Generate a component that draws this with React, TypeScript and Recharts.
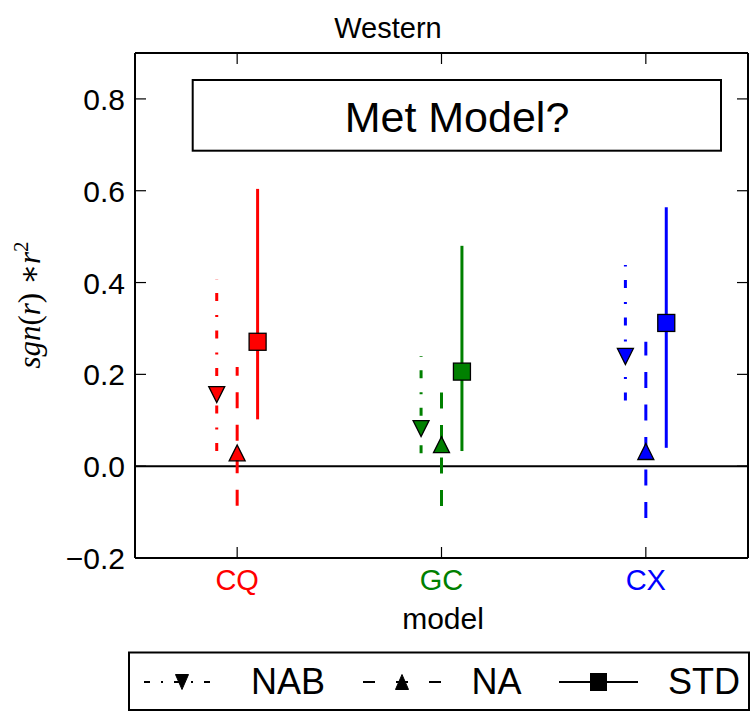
import React from "react";
import { ScatterChart, Scatter, XAxis, YAxis, ReferenceLine } from "recharts";

const MODELS = ["CQ", "GC", "CX"];
const MODEL_COLORS = ["#ff0000", "#008000", "#0000ff"];
const SERIES_NAMES = ["NAB", "NA", "STD"];
const SERIES_OFFSETS = [-0.1, 0, 0.1];

const NAB_VALUES = [0.156, 0.082, 0.239];
const NAB_LOWS = [0.033, 0.028, 0.143];
const NAB_HIGHS = [0.407, 0.24, 0.438];

const NA_VALUES = [0.029, 0.047, 0.032];
const NA_LOWS = [-0.086, -0.087, -0.113];
const NA_HIGHS = [0.216, 0.193, 0.271];

const STD_VALUES = [0.271, 0.206, 0.312];
const STD_LOWS = [0.102, 0.033, 0.04];
const STD_HIGHS = [0.604, 0.48, 0.564];

const X_TICKS = [0, 1, 2];
const Y_TICKS = [-0.2, 0, 0.2, 0.4, 0.6, 0.8];

const FONT = "'Liberation Sans', Arial, sans-serif";

const SERIES = [
  { name: SERIES_NAMES[0], values: NAB_VALUES, lows: NAB_LOWS, highs: NAB_HIGHS, dash: "8 13.5 2 14", legendDash: "6 11 2 11", marker: "down" },
  { name: SERIES_NAMES[1], values: NA_VALUES, lows: NA_LOWS, highs: NA_HIGHS, dash: "16 16.5", legendDash: "12 21", marker: "up" },
  { name: SERIES_NAMES[2], values: STD_VALUES, lows: STD_LOWS, highs: STD_HIGHS, dash: undefined, legendDash: undefined, marker: "square" },
];

const fmtY = (v: number) => {
  const s = Math.abs(v).toFixed(1);
  return v < -1e-9 ? "\u2212" + s : s;
};

function markerShape(kind: string, cx: number, cy: number, fill: string, w: number, h: number, sw: number) {
  if (kind === "square") {
    return <rect x={cx - w / 2} y={cy - h / 2} width={w} height={h} fill={fill} stroke="#000" strokeWidth={sw} />;
  }
  const pts =
    kind === "down"
      ? `${cx - w / 2},${cy - h / 2} ${cx + w / 2},${cy - h / 2} ${cx},${cy + h / 2}`
      : `${cx - w / 2},${cy + h / 2} ${cx + w / 2},${cy + h / 2} ${cx},${cy - h / 2}`;
  return <polygon points={pts} fill={fill} stroke="#000" strokeWidth={sw} strokeLinejoin="miter" />;
}

const LeftTick = (props: any) => {
  const { x, y, payload } = props;
  return (
    <g>
      <line x1={x} x2={x + 11} y1={y} y2={y} stroke="#000" strokeWidth={1.2} />
      <text x={x - 10} y={y + 11} textAnchor="end" fontSize={30} fontFamily={FONT} fill="#000">
        {fmtY(payload.value)}
      </text>
    </g>
  );
};

const RightTick = (props: any) => {
  const { x, y } = props;
  return <line x1={x} x2={x - 11} y1={y} y2={y} stroke="#000" strokeWidth={1.2} />;
};

const BottomTick = (props: any) => {
  const { x, y, payload } = props;
  return (
    <g>
      <line x1={x} x2={x} y1={y} y2={y - 11} stroke="#000" strokeWidth={1.2} />
      <text x={x} y={y + 32} textAnchor="middle" fontSize={29} fontFamily={FONT} fill={MODEL_COLORS[payload.value]}>
        {MODELS[payload.value]}
      </text>
    </g>
  );
};

const TopTick = (props: any) => {
  const { x, y } = props;
  return <line x1={x} x2={x} y1={y} y2={y + 11} stroke="#000" strokeWidth={1.2} />;
};

export default function App() {
  const errorLines = SERIES.flatMap((s, si) =>
    MODELS.map((m, i) => ({
      key: `${s.name}-${m}`,
      color: MODEL_COLORS[i],
      dash: s.dash,
      data: [
        { x: i + SERIES_OFFSETS[si], y: s.lows[i] },
        { x: i + SERIES_OFFSETS[si], y: s.highs[i] },
      ],
    }))
  );

  const markerData = SERIES.map((s, si) =>
    MODELS.map((m, i) => ({ x: i + SERIES_OFFSETS[si], y: s.values[i], color: MODEL_COLORS[i], model: m }))
  );

  const legendSlots = [
    { x1: 144, x2: 220, mx: 182, tx: 251 },
    { x1: 363, x2: 441, mx: 402, tx: 471.5 },
    { x1: 559, x2: 638, mx: 598.5, tx: 668 },
  ];

  return (
    <div style={{ position: "absolute", left: 0, top: 0, width: 750, height: 712, background: "#fff" }}>
      <ScatterChart width={750} height={712} margin={{ top: 52, right: 1, bottom: 0, left: 0 }}>
        <XAxis
          dataKey="x"
          type="number"
          domain={[-0.5, 2.5]}
          ticks={X_TICKS}
          interval={0}
          height={154}
          tickSize={0}
          tickMargin={0}
          tickLine={false}
          axisLine={{ stroke: "#000", strokeWidth: 2 }}
          tick={<BottomTick />}
          allowDataOverflow
        />
        <XAxis
          xAxisId="top"
          dataKey="x"
          orientation="top"
          type="number"
          domain={[-0.5, 2.5]}
          ticks={X_TICKS}
          interval={0}
          height={1}
          tickSize={0}
          tickMargin={0}
          tickLine={false}
          axisLine={{ stroke: "#000", strokeWidth: 2 }}
          tick={<TopTick />}
          allowDataOverflow
        />
        <YAxis
          dataKey="y"
          type="number"
          domain={[-0.2, 0.9]}
          ticks={Y_TICKS}
          interval={0}
          width={135}
          tickSize={0}
          tickMargin={0}
          tickLine={false}
          axisLine={{ stroke: "#000", strokeWidth: 2 }}
          tick={<LeftTick />}
          allowDataOverflow
        />
        <YAxis
          yAxisId="right"
          dataKey="y"
          orientation="right"
          type="number"
          domain={[-0.2, 0.9]}
          ticks={Y_TICKS}
          interval={0}
          width={1}
          tickSize={0}
          tickMargin={0}
          tickLine={false}
          axisLine={{ stroke: "#000", strokeWidth: 2 }}
          tick={<RightTick />}
          allowDataOverflow
        />
        {/* invisible series so the mirrored frame axes get drawn */}
        <Scatter
          xAxisId="top"
          yAxisId="right"
          data={markerData[2]}
          shape={() => <g />}
          isAnimationActive={false}
          legendType="none"
        />
        {errorLines.map((e) => (
          <Scatter
            key={e.key}
            data={e.data}
            line={{ stroke: e.color, strokeWidth: 3, strokeDasharray: e.dash }}
            shape={() => <g />}
            isAnimationActive={false}
            legendType="none"
          />
        ))}
        <ReferenceLine y={0} stroke="#000" strokeWidth={2} />
        {SERIES.map((s, si) => (
          <Scatter
            key={s.name}
            name={s.name}
            data={markerData[si]}
            isAnimationActive={false}
            shape={(p: any) =>
              markerShape(s.marker, p.cx, p.cy, p.payload.color, s.marker === "square" ? 17 : 16, s.marker === "square" ? 17 : 16, 1.3)
            }
          />
        ))}
      </ScatterChart>
      <svg width={750} height={712} style={{ position: "absolute", left: 0, top: 0, pointerEvents: "none" }}>
        <text x={388} y={38} textAnchor="middle" fontSize={29} fontFamily={FONT} fill="#000">
          Western
        </text>
        <rect x={192.7} y={80} width={528.3} height={70.7} fill="#fff" stroke="#000" strokeWidth={2} />
        <text x={457} y={131.5} textAnchor="middle" fontSize={43} fontFamily={FONT} fill="#000">
          Met Model?
        </text>
        <text
          x={40}
          y={305}
          transform="rotate(-90 40 305)"
          textAnchor="middle"
          fontSize={31}
          fontFamily="'Liberation Serif', 'DejaVu Serif', serif"
          fill="#000"
        >
          <tspan fontStyle="italic">sgn</tspan>
          <tspan>(</tspan>
          <tspan fontStyle="italic">r</tspan>
          <tspan>)</tspan>
          <tspan> {"\u2217"}</tspan>
          <tspan fontStyle="italic">r</tspan>
          <tspan dy={-12} fontSize={21}>2</tspan>
        </text>
        <text x={443} y={629} textAnchor="middle" fontSize={30} fontFamily={FONT} fill="#000">
          model
        </text>
        <rect x={129} y={652.5} width={620} height={57.5} fill="#fff" stroke="#000" strokeWidth={2} />
        {SERIES.map((s, si) => {
          const slot = legendSlots[si];
          return (
            <g key={s.name}>
              <line
                x1={slot.x1}
                x2={slot.x2}
                y1={682}
                y2={682}
                stroke="#000"
                strokeWidth={2}
                strokeDasharray={s.legendDash}
              />
              {markerShape(s.marker, slot.mx, 682, "#000", s.marker === "square" ? 16 : 13, s.marker === "square" ? 17 : 15, 1)}
              <text x={slot.tx} y={694} fontSize={36} fontFamily={FONT} fill="#000">
                {s.name}
              </text>
            </g>
          );
        })}
      </svg>
    </div>
  );
}
